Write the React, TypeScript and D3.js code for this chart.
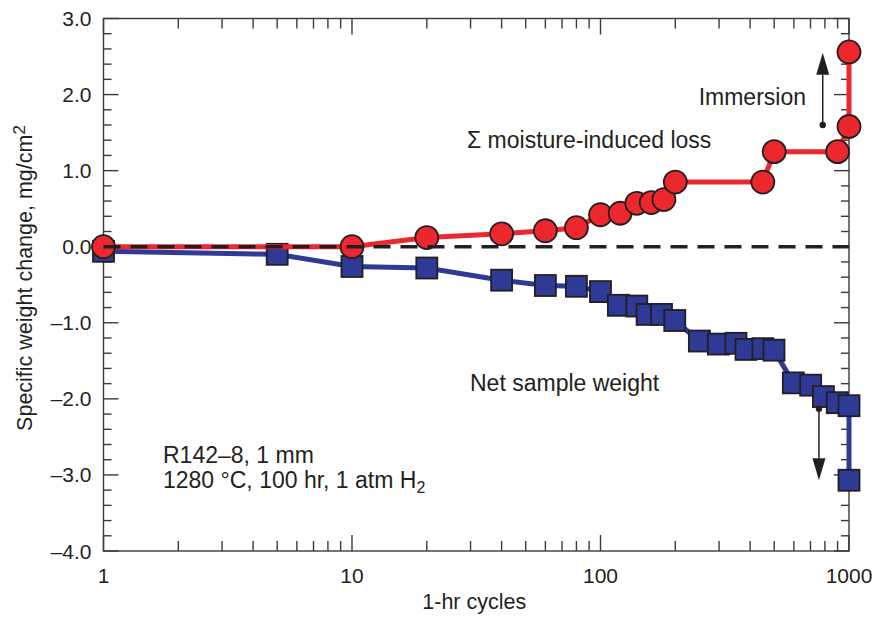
import React, { useEffect, useRef } from 'react';
import * as d3 from 'd3';

// Σ moisture-induced loss (red circles)
const moistureCycles = [1, 10, 20, 40, 60, 80, 100, 120, 140, 160, 180, 200, 450, 500, 900, 1000, 1000];
const moistureLoss = [0, 0, 0.12, 0.17, 0.21, 0.25, 0.42, 0.44, 0.57, 0.58, 0.62, 0.85, 0.85, 1.25, 1.25, 1.58, 2.56];

// Net sample weight (blue squares)
const netCycles = [1, 5, 10, 20, 40, 60, 80, 100, 118, 140, 154, 176, 199, 250, 298, 351, 385, 450, 499, 597, 701, 789, 897, 1000, 1000];
const netWeight = [-0.06, -0.1, -0.26, -0.28, -0.44, -0.51, -0.52, -0.59, -0.77, -0.78, -0.89, -0.89, -0.97, -1.24, -1.28, -1.27, -1.35, -1.34, -1.36, -1.79, -1.82, -1.97, -2.05, -2.09, -3.07];

const xTicks = [1, 10, 100, 1000];
const yTicks = [-4, -3, -2, -1, 0, 1, 2, 3];

// immersion arrows: cycle, start value, end value
const arrowCycles = [784, 757];
const arrowFrom = [1.6, -2.13];
const arrowTo = [2.55, -3.07];

const RED = '#ec272e';
const BLUE = '#2e3a96';
const INK = '#231f20';
const FONT = '"Liberation Sans", Arial, Helvetica, sans-serif';

function App() {
    const svgRef = useRef<SVGSVGElement>(null);
    const width = 878;
    const height = 618;

    useEffect(() => {
        const svg = d3.select(svgRef.current);
        svg.selectAll('*').remove();

        const margin = { top: 18.5, right: 29, bottom: 67, left: 103.5 };

        const x = d3.scaleLog()
            .domain([1, 1000])
            .range([margin.left, width - margin.right]);

        const y = d3.scaleLinear()
            .domain([-4, 3])
            .range([height - margin.bottom, margin.top]);

        const x0 = x.range()[0], x1 = x.range()[1];
        const y0 = y.range()[0], y1 = y.range()[1];

        // frame
        svg.append('rect')
            .attr('x', x0).attr('y', y1)
            .attr('width', x1 - x0).attr('height', y0 - y1)
            .attr('fill', 'none')
            .attr('stroke', '#3a3a3a')
            .attr('stroke-width', 1.4);

        // y ticks (inward on both sides)
        const yMinor = d3.range(-4, 3.001, 0.2).map(v => Math.round(v * 10) / 10);
        const yt = svg.append('g').attr('stroke', '#3a3a3a').attr('stroke-width', 1.4);
        yMinor.forEach(v => {
            const major = Math.abs(v - Math.round(v)) < 1e-6;
            const len = major ? 15 : 8;
            yt.append('line').attr('x1', x0).attr('x2', x0 + len).attr('y1', y(v)).attr('y2', y(v));
            yt.append('line').attr('x1', x1).attr('x2', x1 - len).attr('y1', y(v)).attr('y2', y(v));
        });

        // x ticks (log, inward on bottom and top)
        const xAll: number[] = [];
        [1, 10, 100].forEach(d => { for (let k = 1; k < 10; k++) xAll.push(d * k); });
        xAll.push(1000);
        xAll.forEach(v => {
            const major = xTicks.includes(v);
            const len = major ? 16 : 10;
            yt.append('line').attr('x1', x(v)).attr('x2', x(v)).attr('y1', y0).attr('y2', y0 - len);
            yt.append('line').attr('x1', x(v)).attr('x2', x(v)).attr('y1', y1).attr('y2', y1 + len);
        });

        // tick labels
        const fmt = (v: number) => (v < 0 ? '\u2013' : '') + Math.abs(v).toFixed(1);
        svg.append('g')
            .selectAll('text')
            .data(yTicks)
            .join('text')
            .attr('x', x0 - 12)
            .attr('y', d => y(d) + 7.5)
            .attr('text-anchor', 'end')
            .attr('font-family', FONT)
            .attr('font-size', 21)
            .attr('fill', INK)
            .text(d => fmt(d));

        svg.append('g')
            .selectAll('text')
            .data(xTicks)
            .join('text')
            .attr('x', d => x(d))
            .attr('y', y0 + 32)
            .attr('text-anchor', 'middle')
            .attr('font-family', FONT)
            .attr('font-size', 21)
            .attr('fill', INK)
            .text(d => String(d));

        // axis titles
        svg.append('text')
            .attr('x', (x0 + x1) / 2 - 2)
            .attr('y', 609)
            .attr('text-anchor', 'middle')
            .attr('font-family', FONT)
            .attr('font-size', 21.5)
            .attr('fill', INK)
            .text('1-hr cycles');

        const yl = svg.append('text')
            .attr('transform', `translate(32, 278) rotate(-90)`)
            .attr('text-anchor', 'middle')
            .attr('font-family', FONT)
            .attr('font-size', 21.5)
            .attr('fill', INK);
        yl.append('tspan').text('Specific weight change, mg/cm');
        yl.append('tspan').attr('dy', -7).attr('font-size', 17).text('2');

        // net sample weight
        const netData = netCycles.map((c, i) => [c, netWeight[i]] as [number, number]);
        const line = d3.line<[number, number]>().x(d => x(d[0])).y(d => y(d[1]));
        svg.append('path')
            .attr('d', line(netData))
            .attr('fill', 'none')
            .attr('stroke', BLUE)
            .attr('stroke-width', 5);
        const sq = 21;
        svg.append('g')
            .selectAll('rect')
            .data(netData)
            .join('rect')
            .attr('x', d => x(d[0]) - sq / 2)
            .attr('y', d => y(d[1]) - sq / 2)
            .attr('width', sq)
            .attr('height', sq)
            .attr('fill', BLUE)
            .attr('stroke', INK)
            .attr('stroke-width', 1.8);

        // moisture-induced loss
        const moistData = moistureCycles.map((c, i) => [c, moistureLoss[i]] as [number, number]);
        svg.append('path')
            .attr('d', line(moistData))
            .attr('fill', 'none')
            .attr('stroke', RED)
            .attr('stroke-width', 5);
        svg.append('g')
            .selectAll('circle')
            .data(moistData)
            .join('circle')
            .attr('cx', d => x(d[0]))
            .attr('cy', d => y(d[1]))
            .attr('r', 11.5)
            .attr('fill', RED)
            .attr('stroke', INK)
            .attr('stroke-width', 1.8);

        // zero line
        svg.append('line')
            .attr('x1', x0).attr('x2', x1)
            .attr('y1', y(0)).attr('y2', y(0))
            .attr('stroke', INK)
            .attr('stroke-width', 3.5)
            .attr('stroke-dasharray', '17 10');

        // immersion arrows
        arrowCycles.forEach((c, i) => {
            const ax = x(c);
            const ya = y(arrowFrom[i]);
            const yb = y(arrowTo[i]);
            const dir = yb < ya ? -1 : 1;
            const head = 22;
            svg.append('line')
                .attr('x1', ax).attr('x2', ax)
                .attr('y1', ya).attr('y2', yb - dir * head)
                .attr('stroke', INK)
                .attr('stroke-width', 1.5);
            svg.append('circle')
                .attr('cx', ax).attr('cy', ya).attr('r', 3.2)
                .attr('fill', INK);
            svg.append('path')
                .attr('d', `M${ax - 6.5},${yb - dir * head} L${ax + 6.5},${yb - dir * head} L${ax},${yb} Z`)
                .attr('fill', INK);
        });

        // annotations
        const note = (tx: number, ty: number, anchor: string) => svg.append('text')
            .attr('x', tx).attr('y', ty)
            .attr('text-anchor', anchor)
            .attr('font-family', FONT)
            .attr('font-size', 23)
            .attr('fill', INK);

        note(806, 105, 'end').text('Immersion');
        note(467, 148, 'start').text('\u03a3 moisture-induced loss');
        note(470, 391, 'start').text('Net sample weight');
        note(163, 463, 'start').text('R142\u20138, 1 mm');
        const t2 = note(163, 488, 'start');
        t2.append('tspan').text('1280 \u00b0C, 100 hr, 1 atm H');
        t2.append('tspan').attr('dy', 5).attr('font-size', 16).text('2');
    }, []);

    return (
        <svg
            ref={svgRef}
            width={width}
            height={height}
            style={{ position: 'absolute', left: 0, top: 0, background: '#fff' }}
        />
    );
}

export default App;
